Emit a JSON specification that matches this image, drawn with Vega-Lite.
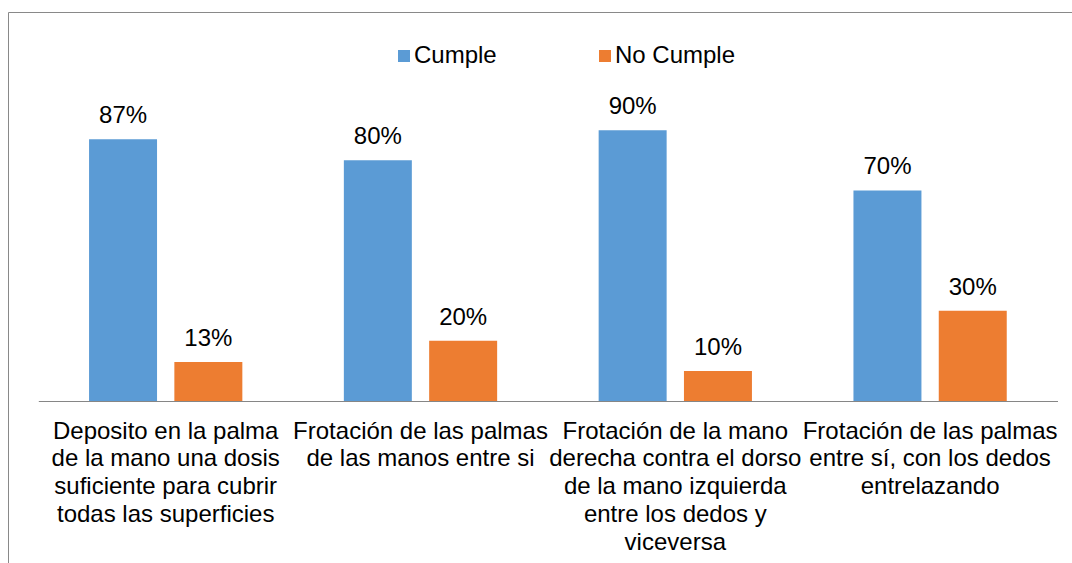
{
  "$schema": "https://vega.github.io/schema/vega-lite/v6.json",
  "autosize": {"type": "none"},
  "padding": {"left": 8, "top": 12, "right": -10, "bottom": -10},
  "width": 1074,
  "height": 561,
  "background": "white",
  "config": {
    "font": "Liberation Sans",
    "view": {"stroke": "#898989", "strokeWidth": 1},
    "text": {"color": "#000000"}
  },
  "data": {
    "values": [
      {"practica": "Deposito en la palma\nde la mano una dosis\nsuficiente para cubrir\ntodas las superficies", "estado": "Cumple", "porcentaje": 0.87},
      {"practica": "Deposito en la palma\nde la mano una dosis\nsuficiente para cubrir\ntodas las superficies", "estado": "No Cumple", "porcentaje": 0.13},
      {"practica": "Frotación de las palmas\nde las manos entre si", "estado": "Cumple", "porcentaje": 0.80},
      {"practica": "Frotación de las palmas\nde las manos entre si", "estado": "No Cumple", "porcentaje": 0.20},
      {"practica": "Frotación de la mano\nderecha contra el dorso\nde la mano izquierda\nentre los dedos y\nviceversa", "estado": "Cumple", "porcentaje": 0.90},
      {"practica": "Frotación de la mano\nderecha contra el dorso\nde la mano izquierda\nentre los dedos y\nviceversa", "estado": "No Cumple", "porcentaje": 0.10},
      {"practica": "Frotación de las palmas\nentre sí, con los dedos\nentrelazando", "estado": "Cumple", "porcentaje": 0.70},
      {"practica": "Frotación de las palmas\nentre sí, con los dedos\nentrelazando", "estado": "No Cumple", "porcentaje": 0.30}
    ]
  },
  "encoding": {
    "x": {
      "field": "practica",
      "type": "nominal",
      "sort": null,
      "scale": {"type": "band", "range": [30.3, 1049.5], "paddingInner": 0, "paddingOuter": 0},
      "axis": {
        "title": null,
        "orient": "bottom",
        "offset": -172,
        "labelAngle": 0,
        "labelExpr": "split(datum.label, '\\n')",
        "labelFontSize": 24,
        "labelLineHeight": 27.9,
        "labelColor": "#000000",
        "labelPadding": 18,
        "labelLimit": 0,
        "labelOverlap": false,
        "labelBaseline": "top",
        "ticks": false,
        "grid": false,
        "domainColor": "#868686",
        "domainWidth": 1
      }
    },
    "xOffset": {
      "field": "estado",
      "type": "nominal",
      "scale": {"paddingInner": 0.203, "paddingOuter": 0.595}
    },
    "y": {
      "field": "porcentaje",
      "type": "quantitative",
      "scale": {"domain": [0, 1], "range": [389, 88.2], "nice": false},
      "axis": null
    }
  },
  "layer": [
    {
      "mark": {"type": "bar"},
      "encoding": {
        "color": {
          "field": "estado",
          "type": "nominal",
          "scale": {"domain": ["Cumple", "No Cumple"], "range": ["#5B9BD5", "#ED7D31"]},
          "legend": {
            "title": null,
            "orient": "none",
            "direction": "horizontal",
            "legendX": 384,
            "legendY": 32,
            "padding": 0,
            "symbolType": "square",
            "symbolSize": 144,
            "symbolStrokeWidth": 0,
            "labelFontSize": 24,
            "labelColor": "#000000",
            "labelOffset": -2,
            "columnPadding": 96
          }
        }
      }
    },
    {
      "mark": {"type": "text", "fontSize": 24, "baseline": "alphabetic", "align": "center", "dy": -16},
      "encoding": {
        "text": {"field": "porcentaje", "type": "quantitative", "format": ".0%"}
      }
    }
  ]
}
